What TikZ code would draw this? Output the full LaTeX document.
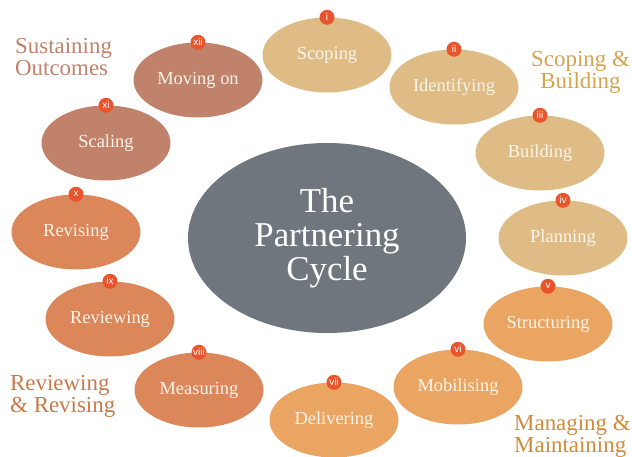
\documentclass[tikz,border=0pt]{standalone}
\usepackage{fontspec}
\setmainfont{Liberation Serif}
\setsansfont{Liberation Sans}
\usetikzlibrary{shapes.geometric}

\definecolor{tanc}{HTML}{DFBC85}
\definecolor{orangec}{HTML}{EBA562}
\definecolor{rustc}{HTML}{DB875A}
\definecolor{brownc}{HTML}{C0826A}
\definecolor{greyc}{HTML}{6F767D}
\definecolor{badgec}{HTML}{E8542C}
\definecolor{paper}{HTML}{FBF4EA}
\definecolor{scopetext}{HTML}{D6A350}
\definecolor{managetext}{HTML}{D38B3A}
\definecolor{reviewtext}{HTML}{C9784A}

\begin{document}
\begin{tikzpicture}[x=1bp, y=-1bp,
    stage/.style={ellipse, minimum width=129bp, minimum height=75bp,
      inner sep=0pt, text=paper, font=\fontsize{18.5}{20}\selectfont},
    badge/.style={circle, fill=badgec, minimum size=15bp, inner sep=0pt,
      text=white, font=\sffamily\fontsize{10}{10}\selectfont},
    phase/.style={inner sep=0pt, anchor=north west,
      font=\fontsize{23}{22}\selectfont}]
  \useasboundingbox (0,0) rectangle (632,457);

  % Centre
  \node[ellipse, fill=greyc, minimum width=278bp, minimum height=190bp,
    inner sep=0pt, text=white, align=center,
    font=\fontsize{35}{34}\selectfont] (cycle) at (327,238)
    {The\\Partnering\\Cycle};

  % Stages
  \node[stage, fill=tanc] (scoping) at (327,55) {Scoping};
  \node[stage, fill=tanc] (identifying) at (454,87) {Identifying};
  \node[stage, fill=tanc] (building) at (540,153) {Building};
  \node[stage, fill=tanc] (planning) at (563,238) {Planning};
  \node[stage, fill=orangec] (structuring) at (548,324) {Structuring};
  \node[stage, fill=orangec] (mobilising) at (458,387) {Mobilising};
  \node[stage, fill=orangec] (delivering) at (334,420) {Delivering};
  \node[stage, fill=rustc] (measuring) at (199,390) {Measuring};
  \node[stage, fill=rustc] (reviewing) at (110,319) {Reviewing};
  \node[stage, fill=rustc] (revising) at (76,232) {Revising};
  \node[stage, fill=brownc] (scaling) at (106,143) {Scaling};
  \node[stage, fill=brownc] (movingon) at (198,80) {Moving on};

  % Numbers
  \node[badge] (n1) at (scoping.north) {i};
  \node[badge] (n2) at (identifying.north) {ii};
  \node[badge] (n3) at (building.north) {iii};
  \node[badge] (n4) at (planning.north) {iv};
  \node[badge] (n5) at (structuring.north) {v};
  \node[badge] (n6) at (mobilising.north) {vi};
  \node[badge] (n7) at (delivering.north) {vii};
  \node[badge] (n8) at (measuring.north) {viii};
  \node[badge] (n9) at (reviewing.north) {ix};
  \node[badge] (n10) at (revising.north) {x};
  \node[badge] (n11) at (scaling.north) {xi};
  \node[badge] (n12) at (movingon.north) {xii};

  % Phases
  \node[phase, text=brownc, align=left] (sustain) at (15,38)
    {Sustaining\\Outcomes};
  \node[phase, text=scopetext, align=center] (scopebuild) at (531,51)
    {Scoping \&\\Building};
  \node[phase, text=managetext, align=left] (manage) at (514,415)
    {Managing \&\\Maintaining};
  \node[phase, text=reviewtext, align=left] (review) at (10,375)
    {Reviewing\\\& Revising};
\end{tikzpicture}
\end{document}
